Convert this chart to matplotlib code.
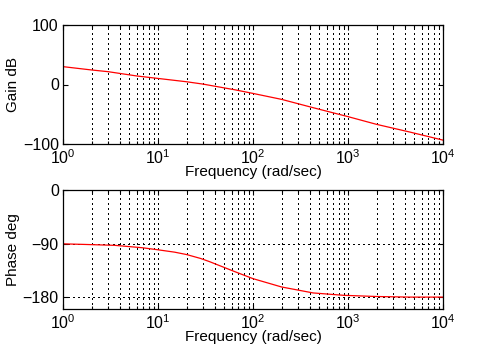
"""
Bode plot (gain and phase) read off a MATLAB-style figure.
"""
import matplotlib
matplotlib.use("Agg")
import matplotlib.pyplot as plt
from matplotlib.ticker import LogLocator, FixedLocator

plt.rcParams["font.family"] = ["Liberation Sans", "DejaVu Sans"]
plt.rcParams["font.size"] = 11
plt.rcParams["mathtext.default"] = "regular"

# ── Data ──────────────────────────────────────────────────────────────────────
GAIN_W  = [1, 2, 3, 6, 10, 20, 30, 40, 65, 100, 200, 430, 1000, 2000, 4500, 10000]
GAIN_DB = [30, 24.4, 21.5, 14.3, 10.2, 4.6, 0.6, -3.0, -9.0, -15, -25, -39, -54, -67,
           -80, -93.5]

PHASE_W   = [1, 1.7, 3.5, 6.8, 10, 15, 20, 28, 35, 65, 100, 200, 430, 900, 2000, 4500, 10000]
PHASE_DEG = [-90.5, -91.5, -93, -97, -100.5, -104.5, -108.5, -115, -120.5, -137.5, -149,
             -163, -173, -177, -179, -180, -180]

GAIN_TICKS  = [-100, 0, 100]
PHASE_TICKS = [-180, -90, 0]

fig = plt.figure(figsize=(4.89, 3.49), dpi=100)
ax1 = fig.add_axes([63 / 489, 1 - 144 / 349, 380 / 489, 119 / 349])
ax2 = fig.add_axes([63 / 489, 1 - 309 / 349, 380 / 489, 119 / 349])

GRID = dict(color="black", linestyle=(0, (1, 3)), linewidth=0.75, antialiased=False)

for ax in (ax1, ax2):
    ax.set_xscale("log")
    ax.set_xlim(1, 1e4)
    ax.xaxis.set_major_locator(LogLocator(base=10, numticks=10))
    ax.xaxis.set_minor_locator(LogLocator(base=10, subs=range(2, 10), numticks=10))
    ax.grid(True, which="both", axis="x", **GRID)
    ax.tick_params(which="both", direction="in", top=True, right=True, width=0.8)
    ax.tick_params(which="major", length=3.6, pad=3, labelsize=11.5)
    ax.tick_params(which="minor", length=2)
    for sp in ax.spines.values():
        sp.set_linewidth(0.9)
    ax.set_xlabel("Frequency (rad/sec)", labelpad=-1)

ax1.plot(GAIN_W, GAIN_DB, color="#ff0000", linewidth=0.9)
ax1.set_ylim(-100, 100)
ax1.yaxis.set_major_locator(FixedLocator(GAIN_TICKS))
ax1.set_ylabel("Gain dB", labelpad=2)

ax2.plot(PHASE_W, PHASE_DEG, color="#ff0000", linewidth=0.9)
ax2.set_ylim(-200, 0)
ax2.yaxis.set_major_locator(FixedLocator(PHASE_TICKS))
ax2.grid(True, which="major", axis="y", **GRID)
ax2.set_ylabel("Phase deg", labelpad=2)

fig.savefig("out.png", dpi=100)
